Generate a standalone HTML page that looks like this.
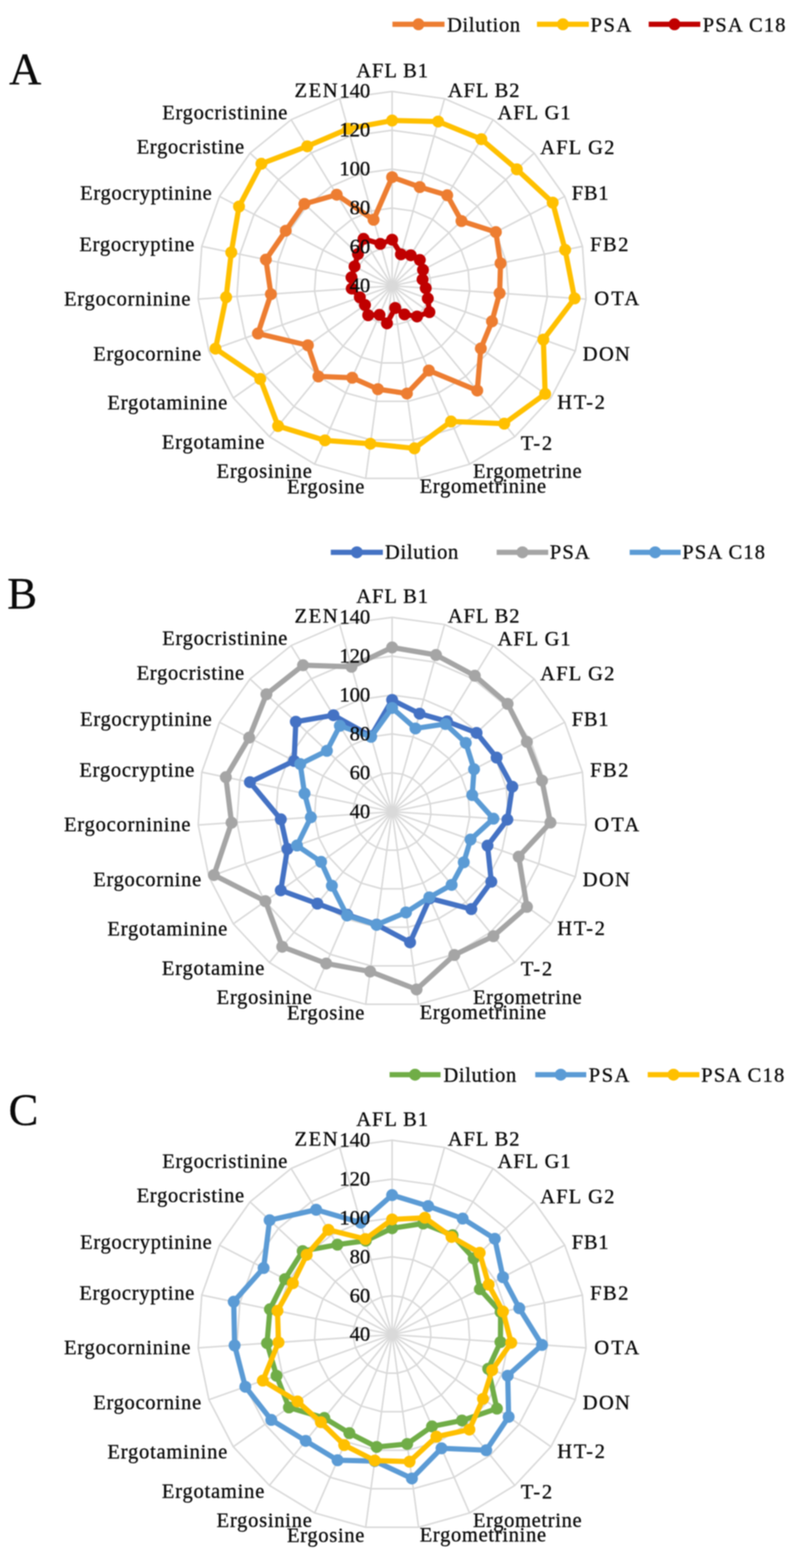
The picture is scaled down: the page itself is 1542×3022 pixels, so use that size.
<!DOCTYPE html><html><head><meta charset="utf-8"><style>html,body{margin:0;padding:0;background:#fff}svg{display:block;filter:blur(1px)}text{font-family:"Liberation Serif","Times New Roman",serif;fill:#0a0a0a;stroke:#0a0a0a;stroke-width:0.6px}</style></head><body>
<svg width="1542" height="3022" viewBox="0 0 1542 3022">
<rect width="1542" height="3022" fill="#fff"/>
<g fill="none" stroke="#d9d9d9" stroke-width="3"><polygon points="755.8,476.0 776.0,478.7 794.7,486.9 810.6,499.7 822.3,516.4 829.2,535.7 830.6,556.0 826.4,576.0 817.0,594.1 803.1,609.0 785.7,619.6 766.0,625.1 745.6,625.1 725.9,619.6 708.5,609.0 694.6,594.1 685.2,576.0 681.0,556.0 682.4,535.7 689.3,516.4 701.0,499.7 716.9,486.9 735.6,478.7"/><polygon points="755.8,401.0 796.2,406.6 833.7,422.8 865.3,448.6 888.9,481.9 902.5,520.4 905.3,561.1 897.0,601.1 878.2,637.3 850.4,667.2 815.5,688.4 776.2,699.4 735.4,699.4 696.1,688.4 661.2,667.2 633.4,637.3 614.6,601.1 606.3,561.1 609.1,520.4 622.7,481.9 646.3,448.6 677.9,422.8 715.4,406.6"/><polygon points="755.8,326.1 816.5,334.4 872.6,358.8 920.1,397.4 955.4,447.5 975.9,505.2 980.1,566.2 967.6,626.2 939.5,680.5 897.7,725.3 845.4,757.1 786.4,773.6 725.2,773.6 666.2,757.1 613.9,725.3 572.1,680.5 544.0,626.2 531.5,566.2 535.7,505.2 556.2,447.5 591.5,397.4 639.0,358.8 695.1,334.4"/><polygon points="755.8,251.1 836.7,262.3 911.6,294.8 974.9,346.3 1022.0,413.0 1049.3,489.9 1054.9,571.4 1038.3,651.3 1000.7,723.8 945.0,783.4 875.2,825.8 796.6,847.9 715.0,847.9 636.4,825.8 566.6,783.4 510.9,723.8 473.3,651.3 456.7,571.4 462.3,489.9 489.6,413.0 536.7,346.3 600.0,294.8 674.9,262.3"/><polygon points="755.8,176.2 856.9,190.1 950.5,230.7 1029.6,295.1 1088.5,378.5 1122.7,474.7 1129.6,576.5 1108.9,676.4 1061.9,767.0 992.3,841.6 905.1,894.6 806.8,922.1 704.8,922.1 606.5,894.6 519.3,841.6 449.7,767.0 402.7,676.4 382.0,576.5 388.9,474.7 423.1,378.5 482.0,295.1 561.1,230.7 654.7,190.1"/><line x1="755.8" y1="550.9" x2="755.8" y2="176.2"/><line x1="755.8" y1="550.9" x2="856.9" y2="190.1"/><line x1="755.8" y1="550.9" x2="950.5" y2="230.7"/><line x1="755.8" y1="550.9" x2="1029.6" y2="295.1"/><line x1="755.8" y1="550.9" x2="1088.5" y2="378.5"/><line x1="755.8" y1="550.9" x2="1122.7" y2="474.7"/><line x1="755.8" y1="550.9" x2="1129.6" y2="576.5"/><line x1="755.8" y1="550.9" x2="1108.9" y2="676.4"/><line x1="755.8" y1="550.9" x2="1061.9" y2="767.0"/><line x1="755.8" y1="550.9" x2="992.3" y2="841.6"/><line x1="755.8" y1="550.9" x2="905.1" y2="894.6"/><line x1="755.8" y1="550.9" x2="806.8" y2="922.1"/><line x1="755.8" y1="550.9" x2="704.8" y2="922.1"/><line x1="755.8" y1="550.9" x2="606.5" y2="894.6"/><line x1="755.8" y1="550.9" x2="519.3" y2="841.6"/><line x1="755.8" y1="550.9" x2="449.7" y2="767.0"/><line x1="755.8" y1="550.9" x2="402.7" y2="676.4"/><line x1="755.8" y1="550.9" x2="382.0" y2="576.5"/><line x1="755.8" y1="550.9" x2="388.9" y2="474.7"/><line x1="755.8" y1="550.9" x2="423.1" y2="378.5"/><line x1="755.8" y1="550.9" x2="482.0" y2="295.1"/><line x1="755.8" y1="550.9" x2="561.1" y2="230.7"/><line x1="755.8" y1="550.9" x2="654.7" y2="190.1"/></g>
<polygon points="755.8,341.4 809.1,360.5 862.0,376.3 889.5,426.0 955.8,447.3 964.8,507.5 963.0,565.1 948.3,619.3 926.8,671.6 919.9,752.7 826.6,714.0 784.3,758.4 728.4,750.0 678.9,728.0 613.7,725.6 593.4,665.5 497.1,642.8 522.2,566.9 512.5,500.3 550.8,444.7 586.8,393.0 649.0,375.2 720.1,423.6" fill="none" stroke="#ED7D31" stroke-width="10" stroke-linejoin="round"/>
<g fill="#ED7D31"><circle cx="755.8" cy="341.4" r="11.5"/><circle cx="809.1" cy="360.5" r="11.5"/><circle cx="862.0" cy="376.3" r="11.5"/><circle cx="889.5" cy="426.0" r="11.5"/><circle cx="955.8" cy="447.3" r="11.5"/><circle cx="964.8" cy="507.5" r="11.5"/><circle cx="963.0" cy="565.1" r="11.5"/><circle cx="948.3" cy="619.3" r="11.5"/><circle cx="926.8" cy="671.6" r="11.5"/><circle cx="919.9" cy="752.7" r="11.5"/><circle cx="826.6" cy="714.0" r="11.5"/><circle cx="784.3" cy="758.4" r="11.5"/><circle cx="728.4" cy="750.0" r="11.5"/><circle cx="678.9" cy="728.0" r="11.5"/><circle cx="613.7" cy="725.6" r="11.5"/><circle cx="593.4" cy="665.5" r="11.5"/><circle cx="497.1" cy="642.8" r="11.5"/><circle cx="522.2" cy="566.9" r="11.5"/><circle cx="512.5" cy="500.3" r="11.5"/><circle cx="550.8" cy="444.7" r="11.5"/><circle cx="586.8" cy="393.0" r="11.5"/><circle cx="649.0" cy="375.2" r="11.5"/><circle cx="720.1" cy="423.6" r="11.5"/></g>
<polygon points="755.8,232.3 844.5,234.2 927.7,268.2 996.2,326.3 1065.3,390.5 1089.3,481.6 1107.5,575.0 1047.3,654.5 1050.8,759.1 971.9,816.5 869.3,812.3 798.8,864.1 714.0,855.2 626.4,848.7 536.0,821.1 501.6,730.3 415.4,671.9 435.9,572.8 445.8,486.5 460.7,398.0 503.9,315.6 592.2,281.9 671.0,248.2" fill="none" stroke="#FFC000" stroke-width="10" stroke-linejoin="round"/>
<g fill="#FFC000"><circle cx="755.8" cy="232.3" r="11.5"/><circle cx="844.5" cy="234.2" r="11.5"/><circle cx="927.7" cy="268.2" r="11.5"/><circle cx="996.2" cy="326.3" r="11.5"/><circle cx="1065.3" cy="390.5" r="11.5"/><circle cx="1089.3" cy="481.6" r="11.5"/><circle cx="1107.5" cy="575.0" r="11.5"/><circle cx="1047.3" cy="654.5" r="11.5"/><circle cx="1050.8" cy="759.1" r="11.5"/><circle cx="971.9" cy="816.5" r="11.5"/><circle cx="869.3" cy="812.3" r="11.5"/><circle cx="798.8" cy="864.1" r="11.5"/><circle cx="714.0" cy="855.2" r="11.5"/><circle cx="626.4" cy="848.7" r="11.5"/><circle cx="536.0" cy="821.1" r="11.5"/><circle cx="501.6" cy="730.3" r="11.5"/><circle cx="415.4" cy="671.9" r="11.5"/><circle cx="435.9" cy="572.8" r="11.5"/><circle cx="445.8" cy="486.5" r="11.5"/><circle cx="460.7" cy="398.0" r="11.5"/><circle cx="503.9" cy="315.6" r="11.5"/><circle cx="592.2" cy="281.9" r="11.5"/><circle cx="671.0" cy="248.2" r="11.5"/></g>
<polygon points="755.8,461.9 772.8,490.2 791.7,491.9 809.2,501.1 815.3,520.1 814.5,538.7 820.6,555.3 824.6,575.3 827.7,601.6 803.8,609.9 779.7,605.9 761.7,593.5 745.9,623.2 731.5,606.8 709.7,607.5 703.5,587.8 693.6,573.0 678.0,556.2 677.5,534.6 683.4,513.4 690.0,489.5 700.7,460.3 733.1,470.0" fill="none" stroke="#C00000" stroke-width="10" stroke-linejoin="round"/>
<g fill="#C00000"><circle cx="755.8" cy="461.9" r="11.5"/><circle cx="772.8" cy="490.2" r="11.5"/><circle cx="791.7" cy="491.9" r="11.5"/><circle cx="809.2" cy="501.1" r="11.5"/><circle cx="815.3" cy="520.1" r="11.5"/><circle cx="814.5" cy="538.7" r="11.5"/><circle cx="820.6" cy="555.3" r="11.5"/><circle cx="824.6" cy="575.3" r="11.5"/><circle cx="827.7" cy="601.6" r="11.5"/><circle cx="803.8" cy="609.9" r="11.5"/><circle cx="779.7" cy="605.9" r="11.5"/><circle cx="761.7" cy="593.5" r="11.5"/><circle cx="745.9" cy="623.2" r="11.5"/><circle cx="731.5" cy="606.8" r="11.5"/><circle cx="709.7" cy="607.5" r="11.5"/><circle cx="703.5" cy="587.8" r="11.5"/><circle cx="693.6" cy="573.0" r="11.5"/><circle cx="678.0" cy="556.2" r="11.5"/><circle cx="677.5" cy="534.6" r="11.5"/><circle cx="683.4" cy="513.4" r="11.5"/><circle cx="690.0" cy="489.5" r="11.5"/><circle cx="700.7" cy="460.3" r="11.5"/><circle cx="733.1" cy="470.0" r="11.5"/></g>
<text x="674.0" y="563.1" font-size="39.5" letter-spacing="-0.00">40</text>
<text x="674.0" y="488.2" font-size="39.5" letter-spacing="0.00">60</text>
<text x="674.0" y="413.2" font-size="39.5" letter-spacing="0.00">80</text>
<text x="654.2" y="338.3" font-size="39.5" letter-spacing="0.00">100</text>
<text x="654.2" y="263.3" font-size="39.5" letter-spacing="0.00">120</text>
<text x="654.2" y="188.4" font-size="39.5" letter-spacing="0.00">140</text>
<text x="686.8" y="148.7" font-size="39.5" letter-spacing="1.80">AFL B1</text>
<text x="863.3" y="186.8" font-size="39.5" letter-spacing="1.78">AFL B2</text>
<text x="959.0" y="230.0" font-size="39.5" letter-spacing="1.91">AFL G1</text>
<text x="1041.2" y="297.3" font-size="39.5" letter-spacing="2.33">AFL G2</text>
<text x="1102.0" y="385.2" font-size="39.5" letter-spacing="1.46">FB1</text>
<text x="1137.6" y="483.6" font-size="39.5" letter-spacing="2.81">FB2</text>
<text x="1145.5" y="588.2" font-size="39.5" letter-spacing="4.23">OTA</text>
<text x="1123.3" y="694.5" font-size="39.5" letter-spacing="2.63">DON</text>
<text x="1074.0" y="788.3" font-size="39.5" letter-spacing="3.37">HT-2</text>
<text x="1004.0" y="866.6" font-size="39.5" letter-spacing="3.47">T-2</text>
<text x="911.7" y="921.4" font-size="39.5" letter-spacing="1.26">Ergometrine</text>
<text x="808.9" y="950.1" font-size="39.5" letter-spacing="1.35">Ergometrinine</text>
<text x="553.2" y="951.0" font-size="39.5" letter-spacing="1.35">Ergosine</text>
<text x="417.6" y="921.4" font-size="39.5" letter-spacing="1.44">Ergosinine</text>
<text x="312.1" y="865.3" font-size="39.5" letter-spacing="1.53">Ergotamine</text>
<text x="207.1" y="789.2" font-size="39.5" letter-spacing="1.51">Ergotaminine</text>
<text x="179.7" y="694.8" font-size="39.5" letter-spacing="1.35">Ergocornine</text>
<text x="123.4" y="588.7" font-size="39.5" letter-spacing="1.53">Ergocorninine</text>
<text x="152.9" y="483.7" font-size="39.5" letter-spacing="1.48">Ergocryptine</text>
<text x="154.5" y="385.4" font-size="39.5" letter-spacing="1.34">Ergocryptinine</text>
<text x="263.4" y="296.1" font-size="39.5" letter-spacing="1.35">Ergocristine</text>
<text x="312.7" y="229.6" font-size="39.5" letter-spacing="1.39">Ergocristinine</text>
<text x="567.7" y="186.5" font-size="39.5" letter-spacing="3.17">ZEN</text>
<line x1="756.4" y1="46.8" x2="856.8" y2="46.8" stroke="#ED7D31" stroke-width="10"/>
<circle cx="806.6" cy="46.8" r="11.5" fill="#ED7D31"/>
<text x="861.8" y="61.1" font-size="39.5" letter-spacing="1.28">Dilution</text>
<line x1="1035.0" y1="46.8" x2="1135.0" y2="46.8" stroke="#FFC000" stroke-width="10"/>
<circle cx="1085.0" cy="46.8" r="11.5" fill="#FFC000"/>
<text x="1138.3" y="61.1" font-size="39.5" letter-spacing="3.00">PSA</text>
<line x1="1250.4" y1="46.8" x2="1349.8" y2="46.8" stroke="#C00000" stroke-width="10"/>
<circle cx="1300.1" cy="46.8" r="11.5" fill="#C00000"/>
<text x="1354.5" y="61.1" font-size="39.5" letter-spacing="2.25">PSA C18</text>
<text x="17.4" y="162.2" font-size="86">A</text>
<g fill="none" stroke="#d9d9d9" stroke-width="3"><polygon points="755.8,1489.5 776.0,1492.2 794.7,1500.4 810.6,1513.2 822.3,1529.9 829.2,1549.2 830.6,1569.5 826.4,1589.5 817.0,1607.6 803.1,1622.5 785.7,1633.1 766.0,1638.6 745.6,1638.6 725.9,1633.1 708.5,1622.5 694.6,1607.6 685.2,1589.5 681.0,1569.5 682.4,1549.2 689.3,1529.9 701.0,1513.2 716.9,1500.4 735.6,1492.2"/><polygon points="755.8,1414.5 796.2,1420.1 833.7,1436.3 865.3,1462.1 888.9,1495.4 902.5,1533.9 905.3,1574.6 897.0,1614.6 878.2,1650.8 850.4,1680.7 815.5,1701.9 776.2,1712.9 735.4,1712.9 696.1,1701.9 661.2,1680.7 633.4,1650.8 614.6,1614.6 606.3,1574.6 609.1,1533.9 622.7,1495.4 646.3,1462.1 677.9,1436.3 715.4,1420.1"/><polygon points="755.8,1339.6 816.5,1347.9 872.6,1372.3 920.1,1410.9 955.4,1461.0 975.9,1518.7 980.1,1579.7 967.6,1639.7 939.5,1694.0 897.7,1738.8 845.4,1770.6 786.4,1787.1 725.2,1787.1 666.2,1770.6 613.9,1738.8 572.1,1694.0 544.0,1639.7 531.5,1579.7 535.7,1518.7 556.2,1461.0 591.5,1410.9 639.0,1372.3 695.1,1347.9"/><polygon points="755.8,1264.6 836.7,1275.8 911.6,1308.3 974.9,1359.8 1022.0,1426.5 1049.3,1503.4 1054.9,1584.9 1038.3,1664.8 1000.7,1737.3 945.0,1796.9 875.2,1839.3 796.6,1861.4 715.0,1861.4 636.4,1839.3 566.6,1796.9 510.9,1737.3 473.3,1664.8 456.7,1584.9 462.3,1503.4 489.6,1426.5 536.7,1359.8 600.0,1308.3 674.9,1275.8"/><polygon points="755.8,1189.7 856.9,1203.6 950.5,1244.2 1029.6,1308.6 1088.5,1392.0 1122.7,1488.2 1129.6,1590.0 1108.9,1689.9 1061.9,1780.5 992.3,1855.1 905.1,1908.1 806.8,1935.6 704.8,1935.6 606.5,1908.1 519.3,1855.1 449.7,1780.5 402.7,1689.9 382.0,1590.0 388.9,1488.2 423.1,1392.0 482.0,1308.6 561.1,1244.2 654.7,1203.6"/><line x1="755.8" y1="1564.4" x2="755.8" y2="1189.7"/><line x1="755.8" y1="1564.4" x2="856.9" y2="1203.6"/><line x1="755.8" y1="1564.4" x2="950.5" y2="1244.2"/><line x1="755.8" y1="1564.4" x2="1029.6" y2="1308.6"/><line x1="755.8" y1="1564.4" x2="1088.5" y2="1392.0"/><line x1="755.8" y1="1564.4" x2="1122.7" y2="1488.2"/><line x1="755.8" y1="1564.4" x2="1129.6" y2="1590.0"/><line x1="755.8" y1="1564.4" x2="1108.9" y2="1689.9"/><line x1="755.8" y1="1564.4" x2="1061.9" y2="1780.5"/><line x1="755.8" y1="1564.4" x2="992.3" y2="1855.1"/><line x1="755.8" y1="1564.4" x2="905.1" y2="1908.1"/><line x1="755.8" y1="1564.4" x2="806.8" y2="1935.6"/><line x1="755.8" y1="1564.4" x2="704.8" y2="1935.6"/><line x1="755.8" y1="1564.4" x2="606.5" y2="1908.1"/><line x1="755.8" y1="1564.4" x2="519.3" y2="1855.1"/><line x1="755.8" y1="1564.4" x2="449.7" y2="1780.5"/><line x1="755.8" y1="1564.4" x2="402.7" y2="1689.9"/><line x1="755.8" y1="1564.4" x2="382.0" y2="1590.0"/><line x1="755.8" y1="1564.4" x2="388.9" y2="1488.2"/><line x1="755.8" y1="1564.4" x2="423.1" y2="1392.0"/><line x1="755.8" y1="1564.4" x2="482.0" y2="1308.6"/><line x1="755.8" y1="1564.4" x2="561.1" y2="1244.2"/><line x1="755.8" y1="1564.4" x2="654.7" y2="1203.6"/></g>
<polygon points="755.8,1348.9 808.8,1375.4 861.7,1390.3 918.6,1412.4 957.2,1460.1 987.5,1516.2 978.0,1579.6 939.7,1629.8 947.0,1699.3 908.5,1752.1 828.3,1731.3 790.4,1816.2 725.9,1782.0 669.5,1763.1 611.7,1741.5 541.2,1715.9 554.0,1636.1 541.3,1579.1 481.7,1507.4 566.9,1466.5 570.2,1391.0 642.7,1378.4 715.0,1418.8" fill="none" stroke="#4472C4" stroke-width="10" stroke-linejoin="round"/>
<g fill="#4472C4"><circle cx="755.8" cy="1348.9" r="11.5"/><circle cx="808.8" cy="1375.4" r="11.5"/><circle cx="861.7" cy="1390.3" r="11.5"/><circle cx="918.6" cy="1412.4" r="11.5"/><circle cx="957.2" cy="1460.1" r="11.5"/><circle cx="987.5" cy="1516.2" r="11.5"/><circle cx="978.0" cy="1579.6" r="11.5"/><circle cx="939.7" cy="1629.8" r="11.5"/><circle cx="947.0" cy="1699.3" r="11.5"/><circle cx="908.5" cy="1752.1" r="11.5"/><circle cx="828.3" cy="1731.3" r="11.5"/><circle cx="790.4" cy="1816.2" r="11.5"/><circle cx="725.9" cy="1782.0" r="11.5"/><circle cx="669.5" cy="1763.1" r="11.5"/><circle cx="611.7" cy="1741.5" r="11.5"/><circle cx="541.2" cy="1715.9" r="11.5"/><circle cx="554.0" cy="1636.1" r="11.5"/><circle cx="541.3" cy="1579.1" r="11.5"/><circle cx="481.7" cy="1507.4" r="11.5"/><circle cx="566.9" cy="1466.5" r="11.5"/><circle cx="570.2" cy="1391.0" r="11.5"/><circle cx="642.7" cy="1378.4" r="11.5"/><circle cx="715.0" cy="1418.8" r="11.5"/></g>
<polygon points="755.8,1247.8 840.4,1262.3 915.2,1302.3 978.4,1356.5 1015.6,1429.8 1044.7,1504.4 1061.0,1585.3 999.8,1651.1 1015.7,1747.8 951.0,1804.3 875.7,1840.5 802.9,1906.9 713.5,1872.4 628.7,1856.9 544.0,1824.7 511.5,1736.8 412.4,1686.4 446.3,1585.6 435.3,1497.8 480.3,1421.6 513.5,1338.1 584.1,1282.1 677.5,1285.0" fill="none" stroke="#A5A5A5" stroke-width="10" stroke-linejoin="round"/>
<g fill="#A5A5A5"><circle cx="755.8" cy="1247.8" r="11.5"/><circle cx="840.4" cy="1262.3" r="11.5"/><circle cx="915.2" cy="1302.3" r="11.5"/><circle cx="978.4" cy="1356.5" r="11.5"/><circle cx="1015.6" cy="1429.8" r="11.5"/><circle cx="1044.7" cy="1504.4" r="11.5"/><circle cx="1061.0" cy="1585.3" r="11.5"/><circle cx="999.8" cy="1651.1" r="11.5"/><circle cx="1015.7" cy="1747.8" r="11.5"/><circle cx="951.0" cy="1804.3" r="11.5"/><circle cx="875.7" cy="1840.5" r="11.5"/><circle cx="802.9" cy="1906.9" r="11.5"/><circle cx="713.5" cy="1872.4" r="11.5"/><circle cx="628.7" cy="1856.9" r="11.5"/><circle cx="544.0" cy="1824.7" r="11.5"/><circle cx="511.5" cy="1736.8" r="11.5"/><circle cx="412.4" cy="1686.4" r="11.5"/><circle cx="446.3" cy="1585.6" r="11.5"/><circle cx="435.3" cy="1497.8" r="11.5"/><circle cx="480.3" cy="1421.6" r="11.5"/><circle cx="513.5" cy="1338.1" r="11.5"/><circle cx="584.1" cy="1282.1" r="11.5"/><circle cx="677.5" cy="1285.0" r="11.5"/></g>
<polygon points="755.8,1364.4 800.8,1403.9 858.6,1395.3 897.8,1431.8 913.7,1482.6 910.2,1532.3 951.1,1577.8 907.0,1618.1 893.9,1661.9 870.5,1705.4 827.5,1729.5 782.5,1758.5 725.8,1782.4 668.9,1764.4 639.7,1707.1 618.9,1661.1 572.4,1629.6 599.2,1575.1 587.0,1529.3 578.7,1472.6 630.1,1447.0 655.1,1398.8 715.3,1420.0" fill="none" stroke="#5B9BD5" stroke-width="10" stroke-linejoin="round"/>
<g fill="#5B9BD5"><circle cx="755.8" cy="1364.4" r="11.5"/><circle cx="800.8" cy="1403.9" r="11.5"/><circle cx="858.6" cy="1395.3" r="11.5"/><circle cx="897.8" cy="1431.8" r="11.5"/><circle cx="913.7" cy="1482.6" r="11.5"/><circle cx="910.2" cy="1532.3" r="11.5"/><circle cx="951.1" cy="1577.8" r="11.5"/><circle cx="907.0" cy="1618.1" r="11.5"/><circle cx="893.9" cy="1661.9" r="11.5"/><circle cx="870.5" cy="1705.4" r="11.5"/><circle cx="827.5" cy="1729.5" r="11.5"/><circle cx="782.5" cy="1758.5" r="11.5"/><circle cx="725.8" cy="1782.4" r="11.5"/><circle cx="668.9" cy="1764.4" r="11.5"/><circle cx="639.7" cy="1707.1" r="11.5"/><circle cx="618.9" cy="1661.1" r="11.5"/><circle cx="572.4" cy="1629.6" r="11.5"/><circle cx="599.2" cy="1575.1" r="11.5"/><circle cx="587.0" cy="1529.3" r="11.5"/><circle cx="578.7" cy="1472.6" r="11.5"/><circle cx="630.1" cy="1447.0" r="11.5"/><circle cx="655.1" cy="1398.8" r="11.5"/><circle cx="715.3" cy="1420.0" r="11.5"/></g>
<text x="674.0" y="1576.6" font-size="39.5" letter-spacing="-0.00">40</text>
<text x="674.0" y="1501.7" font-size="39.5" letter-spacing="0.00">60</text>
<text x="674.0" y="1426.7" font-size="39.5" letter-spacing="0.00">80</text>
<text x="654.2" y="1351.8" font-size="39.5" letter-spacing="0.00">100</text>
<text x="654.2" y="1276.8" font-size="39.5" letter-spacing="0.00">120</text>
<text x="654.2" y="1201.9" font-size="39.5" letter-spacing="0.00">140</text>
<text x="686.8" y="1162.2" font-size="39.5" letter-spacing="1.80">AFL B1</text>
<text x="863.3" y="1200.3" font-size="39.5" letter-spacing="1.78">AFL B2</text>
<text x="959.0" y="1243.5" font-size="39.5" letter-spacing="1.91">AFL G1</text>
<text x="1041.2" y="1310.8" font-size="39.5" letter-spacing="2.33">AFL G2</text>
<text x="1102.0" y="1398.7" font-size="39.5" letter-spacing="1.46">FB1</text>
<text x="1137.6" y="1497.1" font-size="39.5" letter-spacing="2.81">FB2</text>
<text x="1145.5" y="1601.7" font-size="39.5" letter-spacing="4.23">OTA</text>
<text x="1123.3" y="1708.0" font-size="39.5" letter-spacing="2.63">DON</text>
<text x="1074.0" y="1801.8" font-size="39.5" letter-spacing="3.37">HT-2</text>
<text x="1004.0" y="1880.1" font-size="39.5" letter-spacing="3.47">T-2</text>
<text x="911.7" y="1934.9" font-size="39.5" letter-spacing="1.26">Ergometrine</text>
<text x="808.9" y="1963.6" font-size="39.5" letter-spacing="1.35">Ergometrinine</text>
<text x="553.2" y="1964.5" font-size="39.5" letter-spacing="1.35">Ergosine</text>
<text x="417.6" y="1934.9" font-size="39.5" letter-spacing="1.44">Ergosinine</text>
<text x="312.1" y="1878.8" font-size="39.5" letter-spacing="1.53">Ergotamine</text>
<text x="207.1" y="1802.7" font-size="39.5" letter-spacing="1.51">Ergotaminine</text>
<text x="179.7" y="1708.3" font-size="39.5" letter-spacing="1.35">Ergocornine</text>
<text x="123.4" y="1602.2" font-size="39.5" letter-spacing="1.53">Ergocorninine</text>
<text x="152.9" y="1497.2" font-size="39.5" letter-spacing="1.48">Ergocryptine</text>
<text x="154.5" y="1398.9" font-size="39.5" letter-spacing="1.34">Ergocryptinine</text>
<text x="263.4" y="1309.6" font-size="39.5" letter-spacing="1.35">Ergocristine</text>
<text x="312.7" y="1243.1" font-size="39.5" letter-spacing="1.39">Ergocristinine</text>
<text x="567.7" y="1200.0" font-size="39.5" letter-spacing="3.17">ZEN</text>
<line x1="637.6" y1="1064.4" x2="738.0" y2="1064.4" stroke="#4472C4" stroke-width="10"/>
<circle cx="687.8" cy="1064.4" r="11.5" fill="#4472C4"/>
<text x="742.0" y="1076.7" font-size="39.5" letter-spacing="1.38">Dilution</text>
<line x1="957.3" y1="1064.4" x2="1056.7" y2="1064.4" stroke="#A5A5A5" stroke-width="10"/>
<circle cx="1007.0" cy="1064.4" r="11.5" fill="#A5A5A5"/>
<text x="1059.8" y="1076.7" font-size="39.5" letter-spacing="2.15">PSA</text>
<line x1="1213.7" y1="1064.4" x2="1312.0" y2="1064.4" stroke="#5B9BD5" stroke-width="10"/>
<circle cx="1262.8" cy="1064.4" r="11.5" fill="#5B9BD5"/>
<text x="1315.1" y="1076.7" font-size="39.5" letter-spacing="2.25">PSA C18</text>
<text x="14.1" y="1173.4" font-size="86">B</text>
<g fill="none" stroke="#d9d9d9" stroke-width="3"><polygon points="755.8,2497.3 776.0,2500.0 794.7,2508.2 810.6,2521.0 822.3,2537.7 829.2,2557.0 830.6,2577.3 826.4,2597.3 817.0,2615.4 803.1,2630.3 785.7,2640.9 766.0,2646.4 745.6,2646.4 725.9,2640.9 708.5,2630.3 694.6,2615.4 685.2,2597.3 681.0,2577.3 682.4,2557.0 689.3,2537.7 701.0,2521.0 716.9,2508.2 735.6,2500.0"/><polygon points="755.8,2422.3 796.2,2427.9 833.7,2444.1 865.3,2469.9 888.9,2503.2 902.5,2541.7 905.3,2582.4 897.0,2622.4 878.2,2658.6 850.4,2688.5 815.5,2709.7 776.2,2720.7 735.4,2720.7 696.1,2709.7 661.2,2688.5 633.4,2658.6 614.6,2622.4 606.3,2582.4 609.1,2541.7 622.7,2503.2 646.3,2469.9 677.9,2444.1 715.4,2427.9"/><polygon points="755.8,2347.4 816.5,2355.7 872.6,2380.1 920.1,2418.7 955.4,2468.8 975.9,2526.5 980.1,2587.5 967.6,2647.5 939.5,2701.8 897.7,2746.6 845.4,2778.4 786.4,2794.9 725.2,2794.9 666.2,2778.4 613.9,2746.6 572.1,2701.8 544.0,2647.5 531.5,2587.5 535.7,2526.5 556.2,2468.8 591.5,2418.7 639.0,2380.1 695.1,2355.7"/><polygon points="755.8,2272.4 836.7,2283.6 911.6,2316.1 974.9,2367.6 1022.0,2434.3 1049.3,2511.2 1054.9,2592.7 1038.3,2672.6 1000.7,2745.1 945.0,2804.7 875.2,2847.1 796.6,2869.2 715.0,2869.2 636.4,2847.1 566.6,2804.7 510.9,2745.1 473.3,2672.6 456.7,2592.7 462.3,2511.2 489.6,2434.3 536.7,2367.6 600.0,2316.1 674.9,2283.6"/><polygon points="755.8,2197.5 856.9,2211.4 950.5,2252.0 1029.6,2316.4 1088.5,2399.8 1122.7,2496.0 1129.6,2597.8 1108.9,2697.7 1061.9,2788.3 992.3,2862.9 905.1,2915.9 806.8,2943.4 704.8,2943.4 606.5,2915.9 519.3,2862.9 449.7,2788.3 402.7,2697.7 382.0,2597.8 388.9,2496.0 423.1,2399.8 482.0,2316.4 561.1,2252.0 654.7,2211.4"/><line x1="755.8" y1="2572.2" x2="755.8" y2="2197.5"/><line x1="755.8" y1="2572.2" x2="856.9" y2="2211.4"/><line x1="755.8" y1="2572.2" x2="950.5" y2="2252.0"/><line x1="755.8" y1="2572.2" x2="1029.6" y2="2316.4"/><line x1="755.8" y1="2572.2" x2="1088.5" y2="2399.8"/><line x1="755.8" y1="2572.2" x2="1122.7" y2="2496.0"/><line x1="755.8" y1="2572.2" x2="1129.6" y2="2597.8"/><line x1="755.8" y1="2572.2" x2="1108.9" y2="2697.7"/><line x1="755.8" y1="2572.2" x2="1061.9" y2="2788.3"/><line x1="755.8" y1="2572.2" x2="992.3" y2="2862.9"/><line x1="755.8" y1="2572.2" x2="905.1" y2="2915.9"/><line x1="755.8" y1="2572.2" x2="806.8" y2="2943.4"/><line x1="755.8" y1="2572.2" x2="704.8" y2="2943.4"/><line x1="755.8" y1="2572.2" x2="606.5" y2="2915.9"/><line x1="755.8" y1="2572.2" x2="519.3" y2="2862.9"/><line x1="755.8" y1="2572.2" x2="449.7" y2="2788.3"/><line x1="755.8" y1="2572.2" x2="402.7" y2="2697.7"/><line x1="755.8" y1="2572.2" x2="382.0" y2="2597.8"/><line x1="755.8" y1="2572.2" x2="388.9" y2="2496.0"/><line x1="755.8" y1="2572.2" x2="423.1" y2="2399.8"/><line x1="755.8" y1="2572.2" x2="482.0" y2="2316.4"/><line x1="755.8" y1="2572.2" x2="561.1" y2="2252.0"/><line x1="755.8" y1="2572.2" x2="654.7" y2="2211.4"/></g>
<polygon points="755.8,2367.2 815.8,2358.0 872.3,2380.6 913.1,2425.3 924.9,2484.6 964.9,2528.7 964.6,2586.5 941.0,2638.0 957.8,2714.8 890.5,2737.7 832.7,2749.1 784.8,2782.9 726.0,2788.7 673.4,2762.0 625.1,2732.8 556.9,2712.6 533.0,2651.4 514.7,2588.7 520.3,2523.3 549.3,2465.2 583.4,2411.2 650.3,2398.8 705.1,2391.2" fill="none" stroke="#70AD47" stroke-width="10" stroke-linejoin="round"/>
<g fill="#70AD47"><circle cx="755.8" cy="2367.2" r="11.5"/><circle cx="815.8" cy="2358.0" r="11.5"/><circle cx="872.3" cy="2380.6" r="11.5"/><circle cx="913.1" cy="2425.3" r="11.5"/><circle cx="924.9" cy="2484.6" r="11.5"/><circle cx="964.9" cy="2528.7" r="11.5"/><circle cx="964.6" cy="2586.5" r="11.5"/><circle cx="941.0" cy="2638.0" r="11.5"/><circle cx="957.8" cy="2714.8" r="11.5"/><circle cx="890.5" cy="2737.7" r="11.5"/><circle cx="832.7" cy="2749.1" r="11.5"/><circle cx="784.8" cy="2782.9" r="11.5"/><circle cx="726.0" cy="2788.7" r="11.5"/><circle cx="673.4" cy="2762.0" r="11.5"/><circle cx="625.1" cy="2732.8" r="11.5"/><circle cx="556.9" cy="2712.6" r="11.5"/><circle cx="533.0" cy="2651.4" r="11.5"/><circle cx="514.7" cy="2588.7" r="11.5"/><circle cx="520.3" cy="2523.3" r="11.5"/><circle cx="549.3" cy="2465.2" r="11.5"/><circle cx="583.4" cy="2411.2" r="11.5"/><circle cx="650.3" cy="2398.8" r="11.5"/><circle cx="705.1" cy="2391.2" r="11.5"/></g>
<polygon points="755.8,2303.3 825.2,2324.5 891.8,2348.6 953.7,2387.4 969.5,2461.5 1000.9,2521.3 1044.7,2592.0 978.6,2651.4 980.4,2730.7 937.2,2795.1 851.0,2791.3 793.9,2849.4 722.3,2815.9 650.7,2814.3 589.3,2776.9 522.9,2736.6 472.9,2672.7 452.2,2593.0 450.5,2508.8 508.1,2443.8 519.7,2351.7 609.4,2331.5 695.3,2356.4" fill="none" stroke="#5B9BD5" stroke-width="10" stroke-linejoin="round"/>
<g fill="#5B9BD5"><circle cx="755.8" cy="2303.3" r="11.5"/><circle cx="825.2" cy="2324.5" r="11.5"/><circle cx="891.8" cy="2348.6" r="11.5"/><circle cx="953.7" cy="2387.4" r="11.5"/><circle cx="969.5" cy="2461.5" r="11.5"/><circle cx="1000.9" cy="2521.3" r="11.5"/><circle cx="1044.7" cy="2592.0" r="11.5"/><circle cx="978.6" cy="2651.4" r="11.5"/><circle cx="980.4" cy="2730.7" r="11.5"/><circle cx="937.2" cy="2795.1" r="11.5"/><circle cx="851.0" cy="2791.3" r="11.5"/><circle cx="793.9" cy="2849.4" r="11.5"/><circle cx="722.3" cy="2815.9" r="11.5"/><circle cx="650.7" cy="2814.3" r="11.5"/><circle cx="589.3" cy="2776.9" r="11.5"/><circle cx="522.9" cy="2736.6" r="11.5"/><circle cx="472.9" cy="2672.7" r="11.5"/><circle cx="452.2" cy="2593.0" r="11.5"/><circle cx="450.5" cy="2508.8" r="11.5"/><circle cx="508.1" cy="2443.8" r="11.5"/><circle cx="519.7" cy="2351.7" r="11.5"/><circle cx="609.4" cy="2331.5" r="11.5"/><circle cx="695.3" cy="2356.4" r="11.5"/></g>
<polygon points="755.8,2350.2 818.9,2346.9 870.3,2383.9 924.6,2414.6 941.8,2475.8 969.5,2527.8 985.4,2587.9 948.6,2640.7 931.0,2695.9 904.7,2755.2 841.2,2768.8 789.4,2817.0 722.4,2814.9 663.4,2785.0 618.5,2740.9 573.4,2701.0 506.6,2660.8 536.8,2587.2 534.8,2526.3 564.5,2473.1 591.1,2418.4 633.0,2370.2 704.2,2388.0" fill="none" stroke="#FFC000" stroke-width="10" stroke-linejoin="round"/>
<g fill="#FFC000"><circle cx="755.8" cy="2350.2" r="11.5"/><circle cx="818.9" cy="2346.9" r="11.5"/><circle cx="870.3" cy="2383.9" r="11.5"/><circle cx="924.6" cy="2414.6" r="11.5"/><circle cx="941.8" cy="2475.8" r="11.5"/><circle cx="969.5" cy="2527.8" r="11.5"/><circle cx="985.4" cy="2587.9" r="11.5"/><circle cx="948.6" cy="2640.7" r="11.5"/><circle cx="931.0" cy="2695.9" r="11.5"/><circle cx="904.7" cy="2755.2" r="11.5"/><circle cx="841.2" cy="2768.8" r="11.5"/><circle cx="789.4" cy="2817.0" r="11.5"/><circle cx="722.4" cy="2814.9" r="11.5"/><circle cx="663.4" cy="2785.0" r="11.5"/><circle cx="618.5" cy="2740.9" r="11.5"/><circle cx="573.4" cy="2701.0" r="11.5"/><circle cx="506.6" cy="2660.8" r="11.5"/><circle cx="536.8" cy="2587.2" r="11.5"/><circle cx="534.8" cy="2526.3" r="11.5"/><circle cx="564.5" cy="2473.1" r="11.5"/><circle cx="591.1" cy="2418.4" r="11.5"/><circle cx="633.0" cy="2370.2" r="11.5"/><circle cx="704.2" cy="2388.0" r="11.5"/></g>
<text x="674.0" y="2584.4" font-size="39.5" letter-spacing="-0.00">40</text>
<text x="674.0" y="2509.5" font-size="39.5" letter-spacing="0.00">60</text>
<text x="674.0" y="2434.5" font-size="39.5" letter-spacing="0.00">80</text>
<text x="654.2" y="2359.6" font-size="39.5" letter-spacing="0.00">100</text>
<text x="654.2" y="2284.6" font-size="39.5" letter-spacing="0.00">120</text>
<text x="654.2" y="2209.7" font-size="39.5" letter-spacing="0.00">140</text>
<text x="686.8" y="2170.0" font-size="39.5" letter-spacing="1.80">AFL B1</text>
<text x="863.3" y="2208.1" font-size="39.5" letter-spacing="1.78">AFL B2</text>
<text x="959.0" y="2251.3" font-size="39.5" letter-spacing="1.91">AFL G1</text>
<text x="1041.2" y="2318.6" font-size="39.5" letter-spacing="2.33">AFL G2</text>
<text x="1102.0" y="2406.5" font-size="39.5" letter-spacing="1.46">FB1</text>
<text x="1137.6" y="2504.9" font-size="39.5" letter-spacing="2.81">FB2</text>
<text x="1145.5" y="2609.5" font-size="39.5" letter-spacing="4.23">OTA</text>
<text x="1123.3" y="2715.8" font-size="39.5" letter-spacing="2.63">DON</text>
<text x="1074.0" y="2809.6" font-size="39.5" letter-spacing="3.37">HT-2</text>
<text x="1004.0" y="2887.9" font-size="39.5" letter-spacing="3.47">T-2</text>
<text x="911.7" y="2942.7" font-size="39.5" letter-spacing="1.26">Ergometrine</text>
<text x="808.9" y="2971.4" font-size="39.5" letter-spacing="1.35">Ergometrinine</text>
<text x="553.2" y="2972.3" font-size="39.5" letter-spacing="1.35">Ergosine</text>
<text x="417.6" y="2942.7" font-size="39.5" letter-spacing="1.44">Ergosinine</text>
<text x="312.1" y="2886.6" font-size="39.5" letter-spacing="1.53">Ergotamine</text>
<text x="207.1" y="2810.5" font-size="39.5" letter-spacing="1.51">Ergotaminine</text>
<text x="179.7" y="2716.1" font-size="39.5" letter-spacing="1.35">Ergocornine</text>
<text x="123.4" y="2610.0" font-size="39.5" letter-spacing="1.53">Ergocorninine</text>
<text x="152.9" y="2505.0" font-size="39.5" letter-spacing="1.48">Ergocryptine</text>
<text x="154.5" y="2406.7" font-size="39.5" letter-spacing="1.34">Ergocryptinine</text>
<text x="263.4" y="2317.4" font-size="39.5" letter-spacing="1.35">Ergocristine</text>
<text x="312.7" y="2250.9" font-size="39.5" letter-spacing="1.39">Ergocristinine</text>
<text x="567.7" y="2207.8" font-size="39.5" letter-spacing="3.17">ZEN</text>
<line x1="750.9" y1="2071.2" x2="849.2" y2="2071.2" stroke="#70AD47" stroke-width="10"/>
<circle cx="800.0" cy="2071.2" r="11.5" fill="#70AD47"/>
<text x="854.8" y="2085.2" font-size="39.5" letter-spacing="1.21">Dilution</text>
<line x1="1031.7" y1="2071.2" x2="1130.0" y2="2071.2" stroke="#5B9BD5" stroke-width="10"/>
<circle cx="1080.8" cy="2071.2" r="11.5" fill="#5B9BD5"/>
<text x="1134.8" y="2085.2" font-size="39.5" letter-spacing="3.05">PSA</text>
<line x1="1248.5" y1="2071.2" x2="1348.0" y2="2071.2" stroke="#FFC000" stroke-width="10"/>
<circle cx="1298.2" cy="2071.2" r="11.5" fill="#FFC000"/>
<text x="1351.6" y="2085.2" font-size="39.5" letter-spacing="2.34">PSA C18</text>
<text x="16.4" y="2167.5" font-size="86">C</text>
</svg></body></html>
